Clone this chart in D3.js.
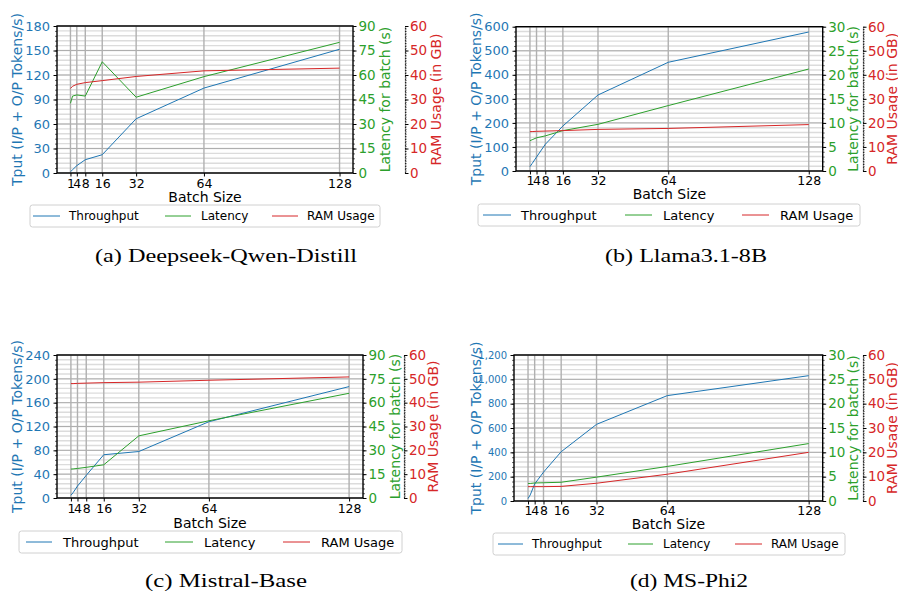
<!DOCTYPE html>
<html><head><meta charset="utf-8">
<script src="https://cdn.jsdelivr.net/npm/d3@7"></script>
<style>body{margin:0;background:#fff} svg{display:block} text{font-family:"DejaVu Sans",sans-serif}</style>
</head><body>
<svg id="c" width="898" height="591"></svg>
<script>
// ---------- data ----------
const batchSizes = [1, 2, 4, 8, 16, 32, 64, 128];
const batchTicks = [1, 4, 8, 16, 32, 64, 128];
const seriesNames = ["Throughput", "Latency", "RAM Usage"];
const captions = ["(a) Deepseek-Qwen-Distill", "(b) Llama3.1-8B", "(c) Mistral-Base", "(d) MS-Phi2"];

const deepseekTput = [1.5, 4, 9, 16.3, 22.4, 66.4, 104, 151.5];
const deepseekLatency = [42.7, 47.1, 47.8, 47.1, 68.1, 46.4, 59, 80];
const deepseekRam = [34.5, 35.4, 36.2, 36.9, 37.7, 39.4, 41.7, 42.8];

const llamaTput = [18, 31, 58, 111, 187, 316, 452, 578];
const llamaLatency = [6.3, 6.5, 6.9, 7.3, 8.4, 9.7, 13.6, 21.2];
const llamaRam = [16.35, 16.4, 16.5, 16.6, 16.8, 17.3, 17.7, 19.3];

const mistralTput = [4.5, 9, 20, 38, 72.6, 78, 128, 187];
const mistralLatency = [18.2, 18.3, 18.6, 19.3, 20.9, 39.1, 48.6, 65.9];
const mistralRam = [48, 48, 48.1, 48.2, 48.4, 48.6, 49.4, 50.8];

const phiTput = [20, 50, 140, 237, 405, 630, 866, 1030];
const phiLatency = [3.6, 3.6, 3.7, 3.75, 3.85, 4.9, 7.1, 11.8];
const phiRam = [5.9, 5.9, 5.9, 5.9, 6.0, 7.3, 11, 20];

const tputTicksA = [0, 30, 60, 90, 120, 150, 180];
const tputTicksB = [0, 100, 200, 300, 400, 500, 600];
const tputTicksC = [0, 40, 80, 120, 160, 200, 240];
const tputTicksD = [0, 200, 400, 600, 800, 1000, 1200];
const latencyTicks90 = [0, 15, 30, 45, 60, 75, 90];
const latencyTicks30 = [0, 5, 10, 15, 20, 25, 30];
const ramTicks = [0, 10, 20, 30, 40, 50, 60];

// ---------- drawing ----------
const BLUE = "#1f77b4", GREEN = "#2ca02c", RED = "#d62728";
const svg = d3.select("#c");

const panels = [
  {tput: deepseekTput, lat: deepseekLatency, ram: deepseekRam, tT: tputTicksA, lT: latencyTicks90,
   x0: 57, x1: 353, y0: 26, y1: 173, redX: 405, tickFs: 13, ylabX: 17, gLabX: 385, rLabX: 436,
   xtC: 183, xlabC: 197, leg: {x0: 30, x1: 380, cy: 216, fs: 12, items: [[33, 60, 69], [165, 191, 201], [272, 298, 307]]},
   cap: [226, 255, 262]},
  {tput: llamaTput, lat: llamaLatency, ram: llamaRam, tT: tputTicksB, lT: latencyTicks30,
   x0: 516, x1: 822.7, y0: 26.7, y1: 171, redX: 863, tickFs: 13, ylabX: 476, gLabX: 853, rLabX: 892,
   xtC: 180, xlabC: 194, leg: {x0: 478, x1: 860, cy: 215, fs: 13, items: [[483, 511, 521], [625, 652, 663], [742, 769, 780]]},
   cap: [686, 255, 162]},
  {tput: mistralTput, lat: mistralLatency, ram: mistralRam, tT: tputTicksC, lT: latencyTicks90,
   x0: 57, x1: 363, y0: 355, y1: 498, redX: 404, tickFs: 13, ylabX: 17, gLabX: 395, rLabX: 433,
   xtC: 508, xlabC: 523, leg: {x0: 19, x1: 402, cy: 542, fs: 13, items: [[26, 52, 63], [165, 193, 204], [283, 310, 321]]},
   cap: [226, 580, 162]},
  {tput: phiTput, lat: phiLatency, ram: phiRam, tT: tputTicksD, lT: latencyTicks30,
   x0: 514, x1: 822.7, y0: 355, y1: 501, redX: 863, tickFs: 10, ylabX: 476, gLabX: 853, rLabX: 892,
   xtC: 510, xlabC: 524, leg: {x0: 493, x1: 845, cy: 544, fs: 12, items: [[498, 523, 532], [628, 653, 663], [735, 762, 771]]},
   cap: [689, 580, 118]}
];

function minorVals(ticks) {
  const step = ticks[1] - ticks[0], m = step / 5, out = [];
  for (let v = 0; v <= ticks[ticks.length - 1] + 1e-9; v += m) out.push(+v.toFixed(6));
  return out;
}

function styleAxis(sel, color, fs) {
  sel.selectAll("text").attr("fill", color).style("font-size", fs + "px").style("font-family", "DejaVu Sans");
  sel.selectAll(".tick line").attr("stroke", "#000").attr("stroke-width", 1);
}

panels.forEach((p, i) => {
  const g = svg.append("g");
  const x = d3.scaleLinear().domain([-5.35, 134.35]).range([p.x0, p.x1]);
  const yL = d3.scaleLinear().domain([0, d3.max(p.tT)]).range([p.y1, p.y0]);
  const yG = d3.scaleLinear().domain([0, d3.max(p.lT)]).range([p.y1, p.y0]);
  const yR = d3.scaleLinear().domain([0, d3.max(ramTicks)]).range([p.y1, p.y0]);

  // minor horizontal grid
  g.append("g").selectAll("line").data(minorVals(p.tT)).join("line")
    .attr("x1", p.x0).attr("x2", p.x1).attr("y1", d => yL(d)).attr("y2", d => yL(d))
    .attr("stroke", "#dcdcdc").attr("stroke-width", 1.4);
  // major horizontal grid
  g.append("g").selectAll("line").data(p.tT).join("line")
    .attr("x1", p.x0).attr("x2", p.x1).attr("y1", d => yL(d)).attr("y2", d => yL(d))
    .attr("stroke", "#a8a8a8").attr("stroke-width", 0.9);
  // vertical grid
  g.append("g").selectAll("line").data(batchTicks).join("line")
    .attr("x1", d => x(d)).attr("x2", d => x(d)).attr("y1", p.y0).attr("y2", p.y1)
    .attr("stroke", "#b0b0b0").attr("stroke-width", 1.4);

  // series lines
  const mk = (ys, data) => d3.line().x((d, j) => x(batchSizes[j])).y(d => ys(d))(data);
  g.append("path").attr("d", mk(yL, p.tput)).attr("fill", "none").attr("stroke", BLUE).attr("stroke-width", 1);
  g.append("path").attr("d", mk(yG, p.lat)).attr("fill", "none").attr("stroke", GREEN).attr("stroke-width", 1);
  g.append("path").attr("d", mk(yR, p.ram)).attr("fill", "none").attr("stroke", RED).attr("stroke-width", 1);

  // frame
  g.append("rect").attr("x", p.x0).attr("y", p.y0).attr("width", p.x1 - p.x0).attr("height", p.y1 - p.y0)
    .attr("fill", "none").attr("stroke", "#000").attr("stroke-width", 1.4);

  // left axis
  const la = g.append("g").attr("transform", `translate(${p.x0},0)`)
    .call(d3.axisLeft(yL).tickValues(p.tT).tickSize(3.5).tickPadding(3.5));
  la.select(".domain").remove();
  styleAxis(la, BLUE, p.tickFs);
  const lm = g.append("g").attr("transform", `translate(${p.x0},0)`)
    .call(d3.axisLeft(yL).tickValues(minorVals(p.tT)).tickSize(2).tickFormat(""));
  lm.select(".domain").remove();
  lm.selectAll("line").attr("stroke", "#000").attr("stroke-width", 0.6);

  // bottom axis
  const ba = g.append("g").attr("transform", `translate(0,${p.y1})`)
    .call(d3.axisBottom(x).tickValues(batchTicks).tickSize(3.5).tickPadding(2));
  ba.select(".domain").remove();
  styleAxis(ba, "#000", 12.5);
  ba.selectAll("text").attr("y", p.xtC - p.y1).attr("dy", "0.36em");

  // green (latency) axis
  const ga = g.append("g").attr("transform", `translate(${p.x1},0)`)
    .call(d3.axisRight(yG).tickValues(p.lT).tickSize(3.5).tickPadding(2));
  ga.select(".domain").remove();
  styleAxis(ga, GREEN, 13.5);
  const gm = g.append("g").attr("transform", `translate(${p.x1},0)`)
    .call(d3.axisRight(yG).tickValues(minorVals(p.lT)).tickSize(2).tickFormat(""));
  gm.select(".domain").remove();
  gm.selectAll("line").attr("stroke", "#000").attr("stroke-width", 0.6);

  // red (RAM) axis, offset spine
  const ra = g.append("g").attr("transform", `translate(${p.redX},0)`)
    .call(d3.axisRight(yR).tickValues(ramTicks).tickSize(3.5).tickPadding(1.5).tickSizeOuter(0));
  ra.select(".domain").attr("stroke", "#333").attr("stroke-width", 1.2).attr("stroke-dasharray", "2,1");
  styleAxis(ra, RED, 13.5);
  const rm = g.append("g").attr("transform", `translate(${p.redX},0)`)
    .call(d3.axisRight(yR).tickValues(d3.range(0, 61, 1)).tickSize(1.8).tickFormat(""));
  rm.select(".domain").remove();
  rm.selectAll("line").attr("stroke", "#000").attr("stroke-width", 0.5);

  // axis labels
  const cy = (p.y0 + p.y1) / 2;
  g.append("text").attr("transform", `translate(${p.ylabX},${cy}) rotate(-90)`).attr("text-anchor", "middle")
    .attr("dy", "0.35em").attr("fill", BLUE).style("font-size", "14px").text("Tput (I/P + O/P Tokens/s)");
  g.append("text").attr("transform", `translate(${p.gLabX},${cy}) rotate(-90)`).attr("text-anchor", "middle")
    .attr("dy", "0.35em").attr("fill", GREEN).style("font-size", "14px").text("Latency for batch (s)");
  g.append("text").attr("transform", `translate(${p.rLabX},${cy}) rotate(-90)`).attr("text-anchor", "middle")
    .attr("dy", "0.35em").attr("fill", RED).style("font-size", "14px").text("RAM Usage (in GB)");
  g.append("text").attr("x", (p.x0 + p.x1) / 2).attr("y", p.xlabC).attr("text-anchor", "middle")
    .attr("dy", "0.36em").attr("fill", "#000").style("font-size", "14px").text("Batch Size");

  // legend
  const L = p.leg, colors = [BLUE, GREEN, RED];
  g.append("rect").attr("x", L.x0).attr("y", L.cy - 11).attr("width", L.x1 - L.x0).attr("height", 22)
    .attr("rx", 2.5).attr("fill", "#fff").attr("stroke", "#d0d0d0").attr("stroke-width", 1);
  L.items.forEach((it, k) => {
    g.append("line").attr("x1", it[0]).attr("x2", it[1]).attr("y1", L.cy).attr("y2", L.cy)
      .attr("stroke", colors[k]).attr("stroke-width", 1);
    g.append("text").attr("x", it[2]).attr("y", L.cy).attr("dy", "0.35em").attr("fill", "#000")
      .style("font-size", L.fs + "px").text(seriesNames[k]);
  });

  // caption
  g.append("text").attr("x", p.cap[0] - p.cap[2] / 2).attr("y", p.cap[1]).attr("dy", "0.35em")
    .attr("textLength", p.cap[2]).attr("lengthAdjust", "spacingAndGlyphs")
    .style("font-family", "Liberation Serif, serif").style("font-size", "19px").attr("fill", "#000")
    .text(captions[i]);
});
</script>
</body></html>
